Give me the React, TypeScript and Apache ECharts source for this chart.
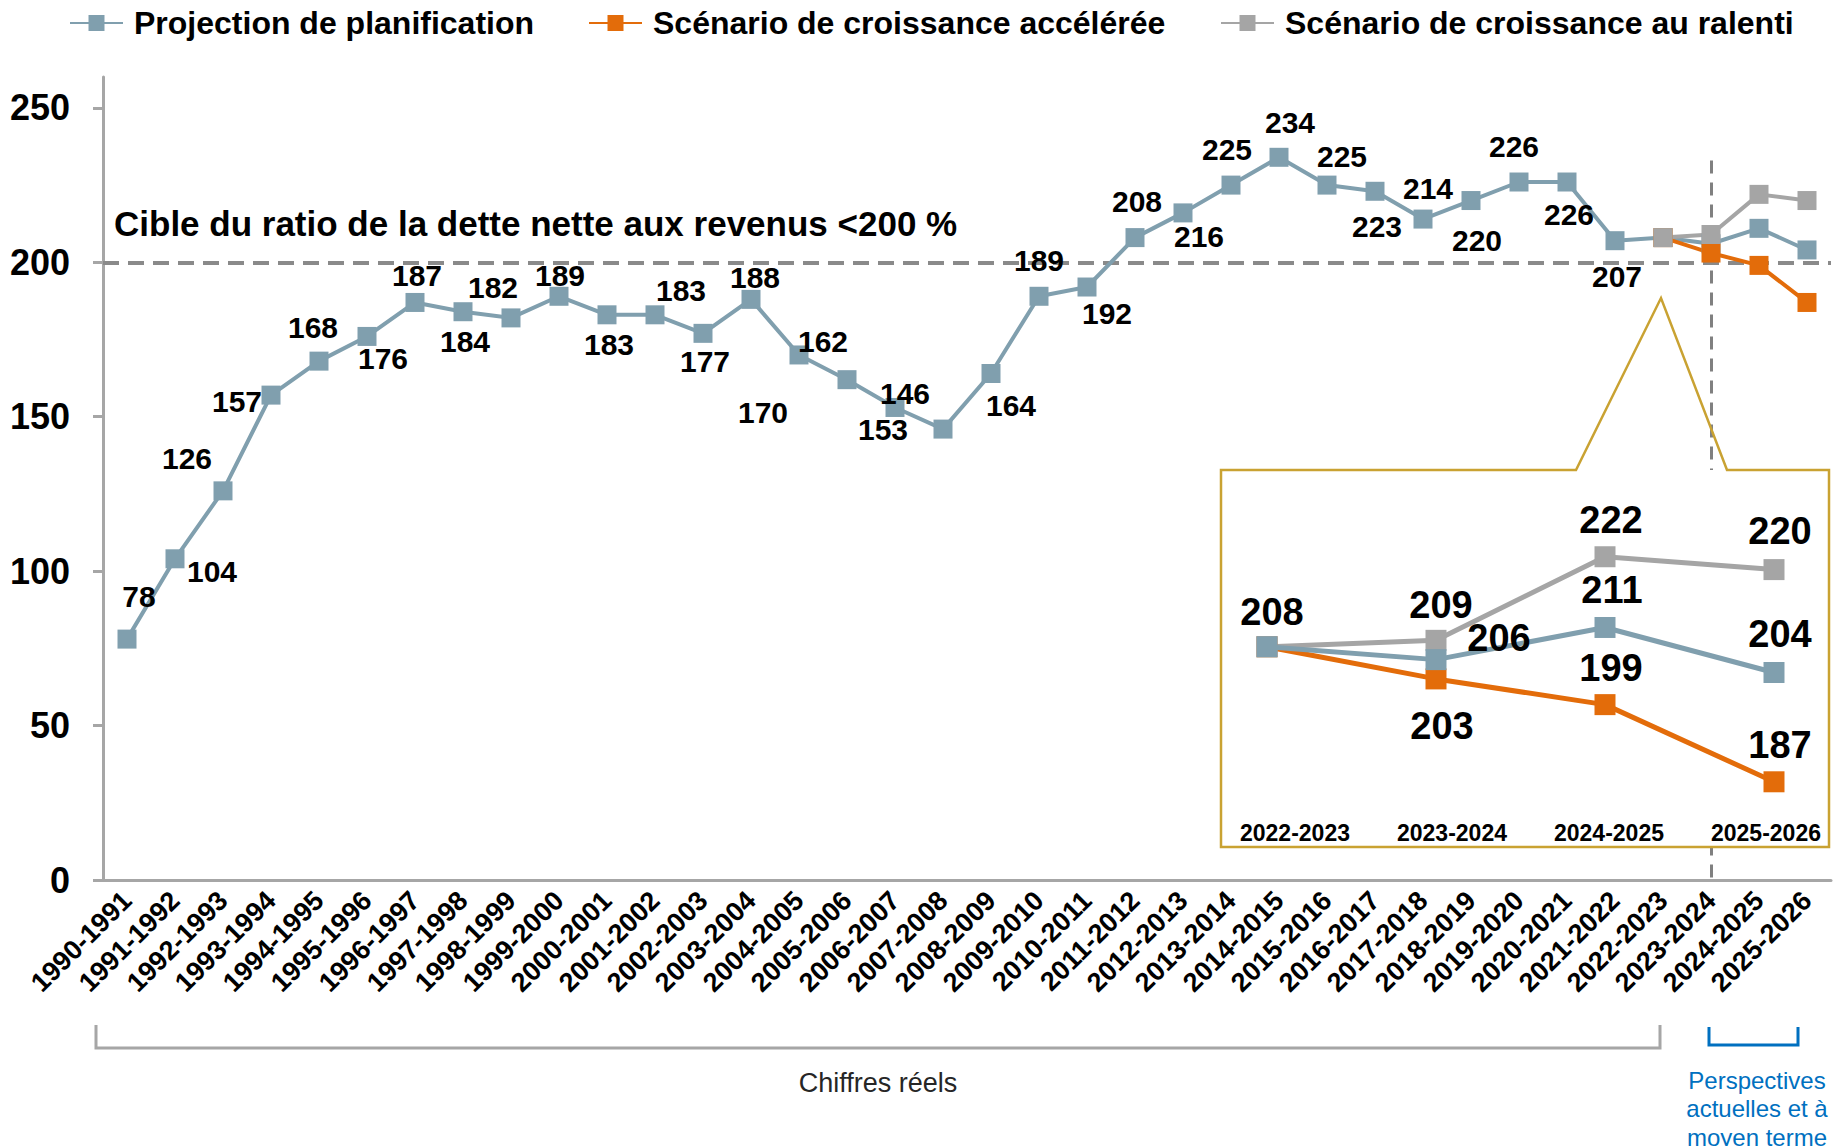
import React, { useEffect, useRef } from "react";
import * as echarts from "echarts";

const CATEGORIES = [
  "1990-1991", "1991-1992", "1992-1993", "1993-1994", "1994-1995", "1995-1996",
  "1996-1997", "1997-1998", "1998-1999", "1999-2000", "2000-2001", "2001-2002",
  "2002-2003", "2003-2004", "2004-2005", "2005-2006", "2006-2007", "2007-2008",
  "2008-2009", "2009-2010", "2010-2011", "2011-2012", "2012-2013", "2013-2014",
  "2014-2015", "2015-2016", "2016-2017", "2017-2018", "2018-2019", "2019-2020",
  "2020-2021", "2021-2022", "2022-2023", "2023-2024", "2024-2025", "2025-2026",
];

const PLANNING = [
  78, 104, 126, 157, 168, 176, 187, 184, 182, 189, 183, 183, 177, 188, 170, 162,
  153, 146, 164, 189, 192, 208, 216, 225, 234, 225, 223, 214, 220, 226, 226, 207,
  208, 206, 211, 204,
];

const FAST = [
  null, null, null, null, null, null, null, null, null, null, null, null,
  null, null, null, null, null, null, null, null, null, null, null, null,
  null, null, null, null, null, null, null, null, 208, 203, 199, 187,
];

const SLOW = [
  null, null, null, null, null, null, null, null, null, null, null, null,
  null, null, null, null, null, null, null, null, null, null, null, null,
  null, null, null, null, null, null, null, null, 208, 209, 222, 220,
];

const INSET_CATEGORIES = ["2022-2023", "2023-2024", "2024-2025", "2025-2026"];
const INSET_PLANNING = [208, 206, 211, 204];
const INSET_FAST = [208, 203, 199, 187];
const INSET_SLOW = [208, 209, 222, 220];

const Y_TICKS = [0, 50, 100, 150, 200, 250];
const TARGET = 200;
const FORECAST_START = "2023-2024";
const FORECAST_LINE_TOP = 233;

const SERIES_NAMES = [
  "Projection de planification",
  "Scénario de croissance accélérée",
  "Scénario de croissance au ralenti",
];

// label placement (layout only): offsets of each value label from its marker
const LABEL_OFFSETS: (number[] | null)[] = [
  [12, -43], [37, 13], [-36, -32], [-34, 6], [-6, -34], [16, 22], [2, -27], [2, 30],
  [-18, -30], [1, -21], [2, 30], [26, -24], [2, 28], [4, -22], [-36, 58], [-24, -38],
  [-12, 22], [-38, -36], [20, 32], [0, -36], [20, 26], [2, -36], [16, 24], [-4, -36],
  [11, -35], [15, -29], [2, 35], [5, -31], [6, 40], [-5, -36], [2, 32], [2, 36],
  null, null, null, null,
];
const INSET_PLAN_OFFSETS = [[5, -35], [63, -22], [7, -37], [6, -38]];
const INSET_FAST_OFFSETS = [null, [6, 47], [6, -37], [6, -37]];
const INSET_SLOW_OFFSETS = [null, [5, -35], [6, -37], [6, -39]];

const BLUE = "#809FAE";
const ORANGE = "#E36C0A";
const GREY = "#A5A5A5";
const AXIS = "#A6A6A6";
const GOLD = "#C9A232";
const FONT = '"Liberation Sans", Arial, sans-serif';

function withLabels(values: (number | null)[], offsets: (number[] | null)[], fontSize: number) {
  return values.map((v, i) => {
    const off = offsets[i];
    if (v == null) return null;
    return {
      value: v,
      label: off
        ? { show: true, position: "inside", offset: off, fontSize, fontWeight: "bold", color: "#000", fontFamily: FONT }
        : { show: false },
    };
  });
}

export default function App() {
  const ref = useRef<HTMLDivElement>(null);

  useEffect(() => {
    if (!ref.current) return;
    const chart = echarts.init(ref.current, undefined, { renderer: "svg" });

    const lineSeries = (name: string, color: string, data: any[], extra: any) => ({
      name,
      type: "line",
      data,
      symbol: "rect",
      symbolSize: 19,
      showAllSymbol: true,
      connectNulls: false,
      lineStyle: { color, width: 4 },
      itemStyle: { color },
      emphasis: { disabled: true },
      ...extra,
    });

    const legend = (i: number, left: number) => ({
      data: [SERIES_NAMES[i]],
      left,
      top: 7,
      padding: 0,
      itemWidth: 53,
      itemHeight: 20,
      selectedMode: false,
      textStyle: { fontSize: 32, fontWeight: "bold", color: "#000", fontFamily: FONT, padding: [0, 0, 0, 6] },
    });

    const insetLabelX = [1295, 1452, 1609, 1766];

    const option: any = {
      animation: false,
      backgroundColor: "#fff",
      textStyle: { fontFamily: FONT },
      legend: [legend(0, 69), legend(1, 588), legend(2, 1220)],
      grid: [
        { left: 103, right: 4, top: 77, bottom: 266 },
        { left: 1267, width: 507, top: 505.3, height: 321.5 },
      ],
      xAxis: [
        {
          type: "category",
          gridIndex: 0,
          data: CATEGORIES,
          boundaryGap: true,
          axisLine: { lineStyle: { color: AXIS, width: 3 } },
          axisTick: { alignWithLabel: true, length: 7, lineStyle: { color: AXIS, width: 3 } },
          axisLabel: {
            interval: 0,
            rotate: 45,
            margin: 16,
            fontSize: 27,
            fontWeight: "bold",
            color: "#000",
            fontFamily: FONT,
          },
          splitLine: { show: false },
        },
        {
          type: "category",
          gridIndex: 1,
          data: INSET_CATEGORIES,
          boundaryGap: false,
          show: false,
        },
      ],
      yAxis: [
        {
          type: "value",
          gridIndex: 0,
          min: 0,
          max: 260,
          interval: 50,
          axisLine: { show: true, lineStyle: { color: AXIS, width: 3 } },
          axisTick: { show: true, length: 10, customValues: Y_TICKS, lineStyle: { color: AXIS, width: 3 } },
          axisLabel: {
            customValues: Y_TICKS,
            margin: 33,
            fontSize: 36,
            fontWeight: "bold",
            color: "#000",
            fontFamily: FONT,
          },
          splitLine: { show: false },
        },
        { type: "value", gridIndex: 1, min: 180, max: 230, show: false },
      ],
      series: [
        lineSeries(SERIES_NAMES[0], BLUE, withLabels(PLANNING, LABEL_OFFSETS, 30), {
          z: 2,
          markLine: {
            silent: true,
            z: 1,
            symbol: ["none", "none"],
            label: { show: false },
            data: [
              { yAxis: TARGET, lineStyle: { color: "#8A8A8A", width: 4, type: [16, 9] } },
              [
                { coord: [FORECAST_START, FORECAST_LINE_TOP], lineStyle: { color: "#808080", width: 3, type: [13, 9] } },
                { coord: [FORECAST_START, 0] },
              ],
            ],
          },
        }),
        lineSeries(SERIES_NAMES[1], ORANGE, FAST, { z: 2 }),
        lineSeries(SERIES_NAMES[2], GREY, SLOW, { z: 2 }),
        lineSeries(SERIES_NAMES[1], ORANGE, withLabels(INSET_FAST, INSET_FAST_OFFSETS, 38), {
          xAxisIndex: 1, yAxisIndex: 1, z: 5, symbolSize: 21, lineStyle: { color: ORANGE, width: 5 },
        }),
        lineSeries(SERIES_NAMES[2], GREY, withLabels(INSET_SLOW, INSET_SLOW_OFFSETS, 38), {
          xAxisIndex: 1, yAxisIndex: 1, z: 5, symbolSize: 21, lineStyle: { color: GREY, width: 5 },
        }),
        lineSeries(SERIES_NAMES[0], BLUE, withLabels(INSET_PLANNING, INSET_PLAN_OFFSETS, 38), {
          xAxisIndex: 1, yAxisIndex: 1, z: 6, symbolSize: 21, lineStyle: { color: BLUE, width: 5 },
        }),
      ],
      graphic: [
        {
          type: "text",
          x: 114,
          y: 223,
          z: 10,
          style: {
            text: "Cible du ratio de la dette nette aux revenus <200 %",
            font: `bold 35px ${FONT}`,
            fill: "#000",
            verticalAlign: "middle",
          },
        },
        {
          type: "rect",
          z: 3,
          shape: { x: 1221, y: 470, width: 608, height: 377 },
          style: { fill: "#fff", stroke: null },
        },
        {
          type: "polygon",
          z: 4,
          shape: {
            points: [
              [1221, 470], [1576, 470], [1661, 298], [1727, 470],
              [1829, 470], [1829, 847], [1221, 847],
            ],
          },
          style: { fill: "none", stroke: GOLD, lineWidth: 2.5 },
        },
        ...INSET_CATEGORIES.map((c, i) => ({
          type: "text",
          x: insetLabelX[i],
          y: 833,
          z: 7,
          style: {
            text: c,
            font: `bold 23px ${FONT}`,
            fill: "#000",
            align: "center",
            verticalAlign: "middle",
          },
        })),
        {
          type: "polyline",
          z: 3,
          shape: { points: [[96, 1025], [96, 1048], [1660, 1048], [1660, 1025]] },
          style: { stroke: AXIS, lineWidth: 3, fill: "none" },
        },
        {
          type: "polyline",
          z: 3,
          shape: { points: [[1709, 1027], [1709, 1045], [1798, 1045], [1798, 1027]] },
          style: { stroke: "#0070C0", lineWidth: 3, fill: "none" },
        },
        {
          type: "text",
          x: 878,
          y: 1083,
          z: 3,
          style: {
            text: "Chiffres réels",
            font: `27px ${FONT}`,
            fill: "#262626",
            align: "center",
            verticalAlign: "middle",
          },
        },
        {
          type: "text",
          x: 1757,
          y: 1066,
          z: 3,
          style: {
            text: "Perspectives\nactuelles et à\nmoyen terme",
            font: `24px ${FONT}`,
            lineHeight: 28.5,
            fill: "#0070C0",
            align: "center",
            verticalAlign: "top",
          },
        },
      ],
    };

    chart.setOption(option);
    return () => chart.dispose();
  }, []);

  return (
    <div
      ref={ref}
      style={{ position: "fixed", left: 0, top: 0, width: 1835, height: 1146, background: "#fff" }}
    />
  );
}
